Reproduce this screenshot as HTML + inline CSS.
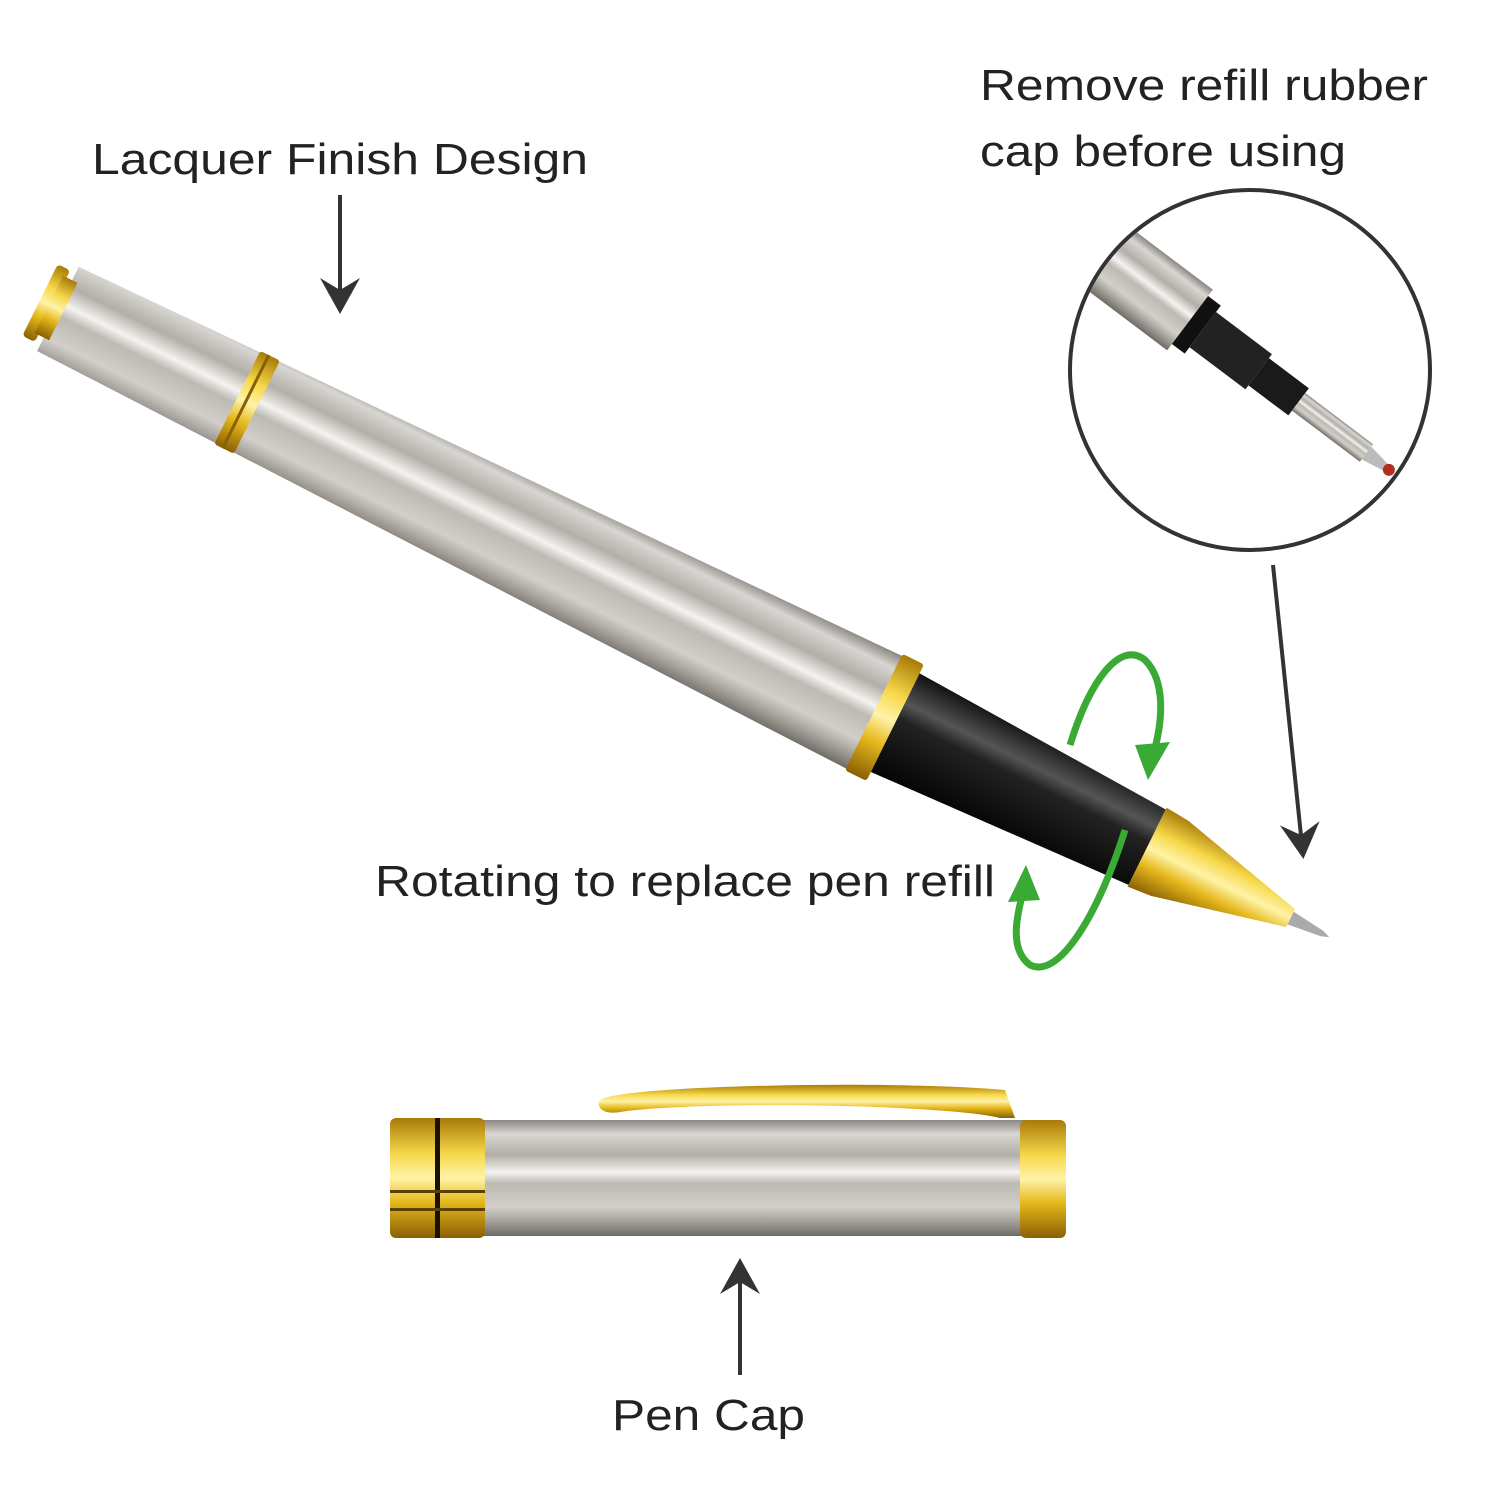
<!DOCTYPE html>
<html><head><meta charset="utf-8"><style>
html,body{margin:0;padding:0;background:#fff}
svg{display:block}
text{font-family:"Liberation Sans",sans-serif;fill:#222}
</style></head><body>
<svg width="1500" height="1500" viewBox="0 0 1500 1500" xmlns="http://www.w3.org/2000/svg">
<defs>
<linearGradient id="silv" x1="0" y1="0" x2="0" y2="1">
<stop offset="0" stop-color="#8a8580"/><stop offset="0.12" stop-color="#d8d6d2"/><stop offset="0.3" stop-color="#b2aea8"/><stop offset="0.45" stop-color="#f4f3f0"/><stop offset="0.55" stop-color="#bdb9b3"/><stop offset="0.75" stop-color="#d2cfca"/><stop offset="0.9" stop-color="#9a958f"/><stop offset="1" stop-color="#6e6a65"/>
</linearGradient>
<linearGradient id="gold" x1="0" y1="0" x2="0" y2="1">
<stop offset="0" stop-color="#a87a08"/><stop offset="0.3" stop-color="#f6d84a"/><stop offset="0.5" stop-color="#fff3a8"/><stop offset="0.7" stop-color="#e6b81c"/><stop offset="1" stop-color="#8a6004"/>
</linearGradient>
<linearGradient id="blk" x1="0" y1="0" x2="0" y2="1">
<stop offset="0" stop-color="#111"/><stop offset="0.3" stop-color="#555"/><stop offset="0.45" stop-color="#222"/><stop offset="1" stop-color="#050505"/>
</linearGradient>
<marker id="ah" markerWidth="10" markerHeight="10" refX="8" refY="5" orient="auto" markerUnits="strokeWidth">
<path d="M0,0 L9,5 L0,10 L3,5 Z" fill="#333"/></marker>
</defs>

<text x="92" y="174" font-size="44" textLength="496" lengthAdjust="spacingAndGlyphs">Lacquer Finish Design</text>
<text x="980" y="100" font-size="44" textLength="448" lengthAdjust="spacingAndGlyphs">Remove refill rubber</text>
<text x="980" y="166" font-size="44" textLength="366" lengthAdjust="spacingAndGlyphs">cap before using</text>
<text x="375" y="896" font-size="44" textLength="620" lengthAdjust="spacingAndGlyphs">Rotating to replace pen refill</text>
<text x="612" y="1430" font-size="44" textLength="193" lengthAdjust="spacingAndGlyphs">Pen Cap</text>

<line x1="340" y1="195" x2="340" y2="310" stroke="#333" stroke-width="4" marker-end="url(#ah)"/>
<line x1="1273" y1="565" x2="1303" y2="855" stroke="#333" stroke-width="4" marker-end="url(#ah)"/>
<line x1="740" y1="1375" x2="740" y2="1262" stroke="#333" stroke-width="4" marker-end="url(#ah)"/>

<g transform="translate(40,300) rotate(26.3)">
  <polygon points="20,-47 940,-63 940,63 20,47" fill="url(#silv)"/>
  <rect x="0" y="-40" width="14" height="80" fill="url(#gold)" rx="4"/>
  <rect x="10" y="-32" width="16" height="64" fill="url(#gold)"/>
  <rect x="220" y="-52" width="22" height="104" fill="url(#gold)" rx="3"/>
  <rect x="228" y="-52" width="3" height="104" fill="#8a6004"/>
  <rect x="930" y="-65" width="24" height="130" fill="url(#gold)" rx="3"/>
  <polygon points="954,-55 1235,-42 1235,42 954,55" fill="url(#blk)"/>
  <polygon points="1235,-44 1260,-42 1395,-10 1395,10 1260,42 1235,44" fill="url(#gold)"/>
  <polygon points="1395,-7 1430,-3 1438,0 1430,3 1395,7" fill="#aaa"/>
</g>

<path d="M1070,745 C1090,680 1120,640 1145,660 C1165,680 1165,720 1150,765" fill="none" stroke="#3aaa35" stroke-width="7"/>
<polygon points="1135,745 1170,742 1148,780" fill="#3aaa35"/>
<path d="M1125,830 C1100,910 1060,980 1030,965 C1010,950 1015,920 1025,885" fill="none" stroke="#3aaa35" stroke-width="7"/>
<polygon points="1008,902 1040,900 1026,865" fill="#3aaa35"/>

<clipPath id="cc"><circle cx="1250" cy="370" r="178"/></clipPath>
<circle cx="1250" cy="370" r="180" fill="#fff" stroke="#333" stroke-width="4"/>
<g clip-path="url(#cc)">
<g transform="translate(1190,320) rotate(37)">
  <rect x="-200" y="-38" width="200" height="76" fill="url(#silv)"/>
  <rect x="0" y="-30" width="16" height="60" fill="#111"/>
  <rect x="16" y="-22" width="70" height="44" fill="#222"/>
  <rect x="86" y="-17" width="50" height="34" fill="#1a1a1a"/>
  <rect x="136" y="-11" width="85" height="22" fill="url(#silv)"/>
  <polygon points="221,-8 245,-4 245,4 221,8" fill="#bbb"/>
  <circle cx="249" cy="0" r="6" fill="#b03020"/>
</g>
</g>

<path d="M600,1100 C620,1085 900,1080 1005,1090 L1015,1118 L1000,1118 C950,1105 700,1100 620,1112 C605,1115 595,1108 600,1100 Z" fill="url(#gold)"/>
<rect x="480" y="1120" width="545" height="116" fill="url(#silv)"/>
<rect x="390" y="1118" width="95" height="120" fill="url(#gold)" rx="6"/>
<rect x="435" y="1118" width="5" height="120" fill="#1a1200"/>
<rect x="390" y="1190" width="95" height="3" fill="#5a4000"/>
<rect x="390" y="1208" width="95" height="3" fill="#5a4000"/>
<rect x="1020" y="1120" width="46" height="118" fill="url(#gold)" rx="6"/>
</svg>
</body></html>
